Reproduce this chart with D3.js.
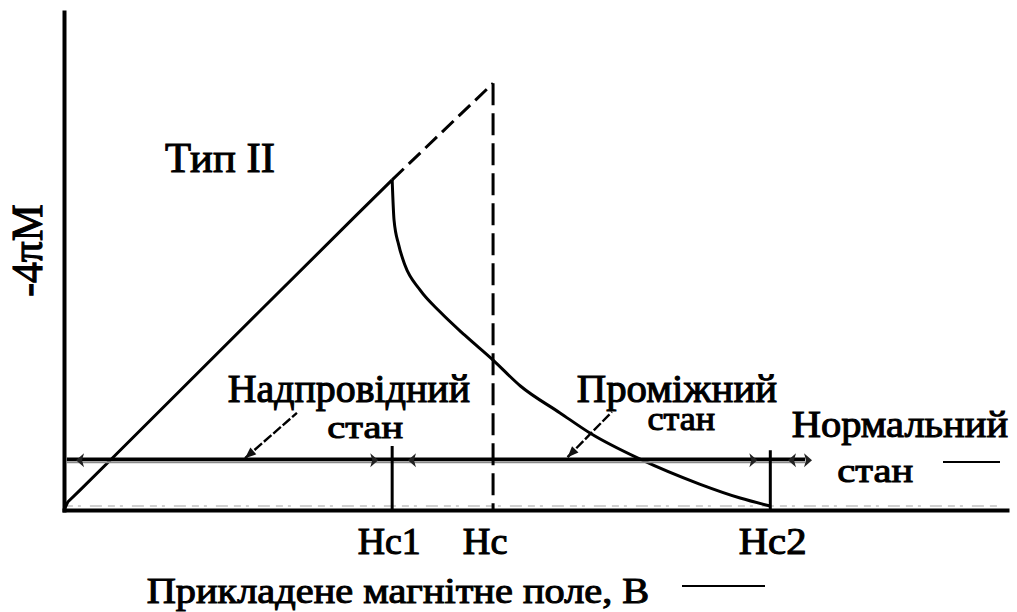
<!DOCTYPE html>
<html>
<head>
<meta charset="utf-8">
<script src="https://cdn.jsdelivr.net/npm/d3@7"></script>
<style>
  body { margin: 0; background: #fff; }
  svg { display: block; }
</style>
</head>
<body>
<svg id="chart" width="1017" height="612"></svg>
<script>
// Magnetisation curve of a type-II superconductor (-4πM vs applied field)
// Field in arbitrary units (0..1000), magnetisation in arbitrary units (0..100).

// Meissner branch: -4πM grows linearly with H up to Hc1
const meissnerField = [0, 4, 17, 49, 120, 208, 309, 348];
const meissnerMag   = [0, 1.6, 4, 10.0, 23.4, 40.0, 59.0, 66.3];

// Extrapolation of the linear branch up to the thermodynamic field Hc
const extrapField = [348, 455];
const extrapMag   = [66.3, 85.7];

// Mixed (vortex) state: magnetisation falls from Hc1 to zero at Hc2
const mixedField = [348, 350, 355, 361.5, 377.5, 398.7, 425, 455, 484, 526, 559, 611, 674, 717, 749];
const mixedMag   = [66.3, 58.2, 53.2, 49.2, 44.2, 39.8, 35.1, 30.1, 24.9, 19.5, 15.3, 10.2, 5.2, 2.4, 0.8];

// Critical fields
const criticalNames  = ["Hc1", "Hc", "Hc2"];
const criticalValues = [348, 455, 749];
const criticalMarkTop = [12.85, 85.7, 12.0];

// Horizontal "state" bar with range arrows
const stateLevel = 10.2;
const stateRange = [3, 786];
const arrowField = [17, 329, 369, 731, 772, 789];
const arrowDir   = [-1, 1, -1, 1, -1, 1];

// Leader lines from the state captions down to the bar
const leaderField = [[192, 247], [534, 581]];
const leaderMag   = [[10.4, 19.5], [10.6, 19.7]];

// Text
const typeLabel   = "Тип II";
const stateLabels = ["Надпровідний", "стан", "Проміжний", "стан", "Нормальний", "стан"];
const xTitle      = "Прикладене магнітне поле, В";
const yTitle      = "-4πM";

// Ink boxes of the captions (left, right, top, baseline) in px
const stateBoxes = [
  {x0: 228, x1: 470, top: 373, base: 402},
  {x0: 328, x1: 403, top: 422, base: 438},
  {x0: 577, x1: 777, top: 373, base: 402},
  {x0: 648, x1: 715, top: 413, base: 430},
  {x0: 792, x1: 1008, top: 410, base: 437},
  {x0: 838, x1: 913, top: 465, base: 482}
];
const typeBox = {x0: 165, x1: 274, top: 143, base: 172};
const criticalBoxes = [
  {x0: 358, x1: 419, top: 528, base: 554},
  {x0: 463, x1: 507, top: 528, base: 554},
  {x0: 739, x1: 805, top: 528, base: 554}
];
const xTitleBox = {x0: 147, x1: 648, top: 579, base: 603};
const yTitleBox = {start: 296, end: 205, top: 12, base: 42};

const FONT = '"Liberation Serif", "DejaVu Serif", serif';

function draw() {
  const svg = d3.select("#chart");
  svg.selectAll("*").remove();

  const x = d3.scaleLinear().domain([0, 1000]).range([64, 1007]);
  const y = d3.scaleLinear().domain([0, 100]).range([510, 12]);

  // Axes: bare spines without ticks
  const xAxis = svg.append("g").attr("transform", `translate(0,${y(0)})`)
    .call(d3.axisBottom(x).tickValues([]).tickSizeOuter(0));
  const yAxis = svg.append("g").attr("transform", `translate(${x(0)},0)`)
    .call(d3.axisLeft(y).tickValues([]).tickSizeOuter(0));
  [xAxis, yAxis].forEach(a => a.select(".domain")
    .attr("stroke", "#000").attr("stroke-width", 4).attr("stroke-linecap", "square"));

  // faint trace just above the field axis
  svg.append("line")
    .attr("x1", x(2)).attr("x2", x(990))
    .attr("y1", y(0) - 4).attr("y2", y(0) - 4)
    .attr("stroke", "#d0d0d0").attr("stroke-width", 2)
    .attr("stroke-dasharray", "7,5,3,9,12,6");

  const line = d3.line().x(d => x(d[0])).y(d => y(d[1]));

  // Meissner branch
  svg.append("path")
    .datum(d3.zip(meissnerField, meissnerMag))
    .attr("d", line)
    .attr("fill", "none").attr("stroke", "#000").attr("stroke-width", 3)
    .attr("stroke-linejoin", "round");

  // Extrapolated (dashed) part up to Hc
  svg.append("path")
    .datum(d3.zip(extrapField, extrapMag))
    .attr("d", line)
    .attr("fill", "none").attr("stroke", "#000").attr("stroke-width", 3)
    .attr("stroke-dasharray", "16,7");

  // Mixed state branch
  svg.append("path")
    .datum(d3.zip(mixedField, mixedMag))
    .attr("d", d3.line().x(d => x(d[0])).y(d => y(d[1])).curve(d3.curveMonotoneX))
    .attr("fill", "none").attr("stroke", "#000").attr("stroke-width", 3);

  // State bar
  svg.append("line")
    .attr("x1", x(stateRange[0])).attr("x2", x(stateRange[1]))
    .attr("y1", y(stateLevel) + 3).attr("y2", y(stateLevel) + 3)
    .attr("stroke", "#8a8a8a").attr("stroke-width", 2);
  svg.append("line")
    .attr("x1", x(stateRange[0])).attr("x2", x(stateRange[1]))
    .attr("y1", y(stateLevel)).attr("y2", y(stateLevel))
    .attr("stroke", "#000").attr("stroke-width", 3.5);

  // Range arrowheads on the bar
  svg.selectAll("path.arrow")
    .data(d3.zip(arrowField, arrowDir))
    .join("path")
    .attr("class", "arrow")
    .attr("d", d => {
      const cx = x(d[0]), cy = y(stateLevel) + 1, s = d[1];
      return `M${cx + 4 * s},${cy} L${cx - 4 * s},${cy - 7} L${cx - 2 * s},${cy} L${cx - 4 * s},${cy + 7} Z`;
    })
    .attr("fill", "#222");

  // Critical field markers
  criticalValues.forEach((v, i) => {
    const mark = svg.append("line")
      .attr("x1", x(v)).attr("x2", x(v))
      .attr("y1", y(criticalMarkTop[i])).attr("y2", y(0))
      .attr("stroke", "#000").attr("stroke-width", 3);
    if (criticalNames[i] === "Hc") mark.attr("stroke-dasharray", "22,8");
  });

  // Leader lines with arrowheads at the bar
  leaderField.forEach((f, i) => {
    const m = leaderMag[i];
    const x0 = x(f[0]), y0 = y(m[0]), x1 = x(f[1]), y1 = y(m[1]);
    svg.append("line")
      .attr("x1", x0).attr("y1", y0).attr("x2", x1).attr("y2", y1)
      .attr("stroke", "#000").attr("stroke-width", 2.4)
      .attr("stroke-dasharray", "10,2.5");
    const ang = Math.atan2(y1 - y0, x1 - x0) * 180 / Math.PI;
    svg.append("path")
      .attr("d", "M0,0 L11,-4.5 L11,4.5 Z")
      .attr("transform", `translate(${x0},${y0}) rotate(${ang})`)
      .attr("fill", "#111");
  });

  // Small direction strokes next to captions
  svg.append("line").attr("x1", 943).attr("x2", 1000).attr("y1", 462).attr("y2", 462)
    .attr("stroke", "#000").attr("stroke-width", 2.2);
  svg.append("line").attr("x1", 682).attr("x2", 765).attr("y1", 586).attr("y2", 586)
    .attr("stroke", "#000").attr("stroke-width", 2.2);

  // Text fitted into its ink box; a thin outline gives even, slab-like strokes
  const ctx = document.createElement("canvas").getContext("2d");
  ctx.font = `100px ${FONT}`;
  function addText(str, transform) {
    svg.append("text")
      .attr("font-family", FONT).attr("font-size", 100)
      .attr("fill", "#000").attr("stroke", "#000").attr("stroke-width", 1.1)
      .attr("vector-effect", "non-scaling-stroke")
      .attr("stroke-linejoin", "miter")
      .attr("transform", transform)
      .text(str);
  }
  function fitText(str, box) {
    const m = ctx.measureText(str);
    const inkL = -m.actualBoundingBoxLeft;
    const inkR = m.actualBoundingBoxRight;
    const asc = m.actualBoundingBoxAscent;
    const sx = (box.x1 - box.x0 - 1) / (inkR - inkL);
    const sy = (box.base - box.top - 1) / asc;
    addText(str, `translate(${box.x0 + 0.5},${box.base - 0.5}) scale(${sx},${sy}) translate(${-inkL},0)`);
  }
  function fitTextVertical(str, box) {
    const m = ctx.measureText(str);
    const inkL = -m.actualBoundingBoxLeft;
    const inkR = m.actualBoundingBoxRight;
    const asc = m.actualBoundingBoxAscent;
    const sx = (box.start - box.end - 1) / (inkR - inkL);
    const sy = (box.base - box.top - 1) / asc;
    addText(str, `translate(${box.base - 0.5},${box.start - 0.5}) rotate(-90) scale(${sx},${sy}) translate(${-inkL},0)`);
  }

  fitText(typeLabel, typeBox);
  stateLabels.forEach((s, i) => fitText(s, stateBoxes[i]));
  criticalNames.forEach((s, i) => fitText(s, criticalBoxes[i]));
  fitText(xTitle, xTitleBox);
  fitTextVertical(yTitle, yTitleBox);
}

if (document.fonts && document.fonts.load) {
  document.fonts.load(`100px "Liberation Serif"`).then(draw, draw);
} else {
  draw();
}
</script>
</body>
</html>
